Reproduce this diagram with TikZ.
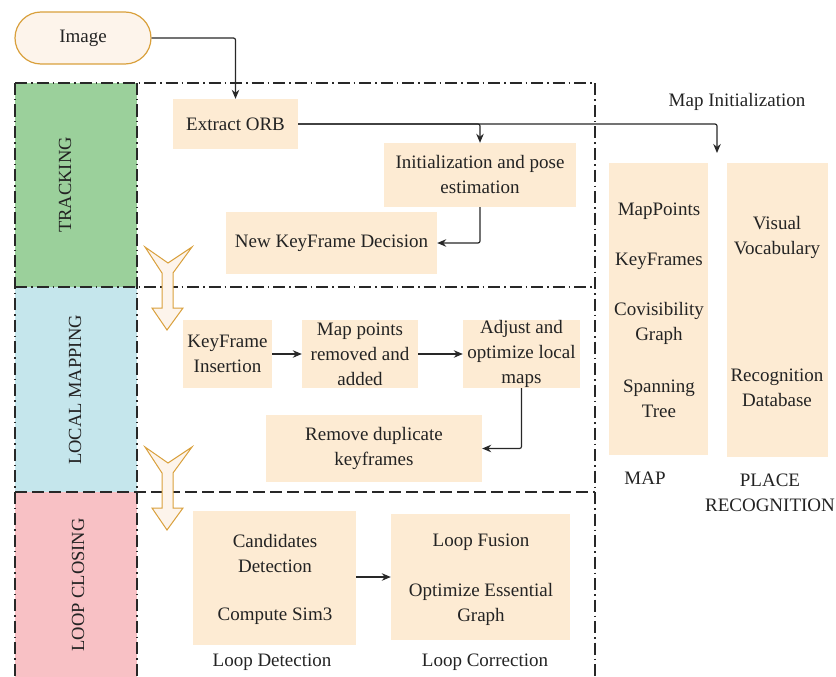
\documentclass[tikz,border=0pt]{standalone}
\usepackage{fontspec}
\setmainfont{Liberation Serif}
\usetikzlibrary{arrows.meta}
\definecolor{boxfill}{RGB}{253,235,211}
\definecolor{imgfill}{RGB}{253,244,235}
\definecolor{orangeb}{RGB}{217,160,60}
\definecolor{trackg}{RGB}{155,208,155}
\definecolor{localc}{RGB}{197,230,236}
\definecolor{loopp}{RGB}{248,193,197}
\definecolor{linec}{RGB}{40,40,40}
\definecolor{textc}{RGB}{35,35,35}
\begin{document}
\begin{tikzpicture}[x=1pt,y=-1pt,
  every node/.style={font=\fontsize{19}{25}\selectfont, text=textc},
  pbox/.style={fill=boxfill, draw=none, inner sep=0pt, align=center},
  plain/.style={inner sep=0pt, align=center, yshift=-1.5pt},
  side/.style={inner sep=0pt, rotate=90, font=\fontsize{18.5}{22}\selectfont},
  conn/.style={draw=linec, line width=1.2pt, rounded corners=2pt, -{Stealth[length=9pt,width=7.5pt]}},
  dashdot/.style={draw=linec, line width=1.1pt, dash pattern=on 12pt off 4pt on 1.5pt off 4pt},
  dashonly/.style={draw=linec, line width=1.1pt, dash pattern=on 12pt off 5pt},
  blockarrow/.style={fill=imgfill, draw=orangeb, line width=1pt, line join=miter}
]
\useasboundingbox (0,0) rectangle (836,677);
% side panels
\fill[trackg] (15,83) rectangle (137,287);
\fill[localc] (15,287) rectangle (137,492);
\fill[loopp] (15,492) rectangle (137,677);
\node[side] (ttrack) at (65,185) {TRACKING};
\node[side] (tlocal) at (75,390) {LOCAL MAPPING};
\node[side] (tloop) at (78,585) {LOOP CLOSING};
% frames
\draw[dashdot] (15,83) -- (595,83) -- (595,677);
\draw[dashdot] (15,287) -- (595,287);
\draw[dashonly] (15,492) -- (595,492);
\draw[dashdot] (15,83) -- (15,677);
\draw[dashdot] (137,83) -- (137,677);
% block arrows
\foreach \dy in {0,200}{
\draw[blockarrow] (145,247+\dy) -- (168,263+\dy) -- (192,247+\dy) -- (173,273+\dy) -- (173,308+\dy) -- (183,308+\dy) -- (167,330+\dy) -- (152,308+\dy) -- (162,308+\dy) -- (162,273+\dy) -- cycle;
}
% image
\node[fill=imgfill, draw=orangeb, line width=1.2pt, rounded corners=26pt, minimum width=136pt, minimum height=52pt, inner sep=0pt] (img) at (83,38) {\raisebox{-1.5pt}{Image}};
% tracking
\node[pbox, minimum width=125pt, minimum height=50pt] (orb) at (235.5,124) {Extract ORB};
\node[pbox, minimum width=192pt, minimum height=64pt] (init) at (480,175) {Initialization and pose\\estimation};
\node[pbox, minimum width=211pt, minimum height=62pt] (nkf) at (331.5,243) {New KeyFrame Decision};
% map columns
\node[pbox, minimum width=99pt, minimum height=292pt] (map) at (658.5,309) {};
\node[pbox, minimum width=101pt, minimum height=294pt] (place) at (777.5,310) {};
\node[plain] (mp) at (659,210) {MapPoints};
\node[plain] (kf) at (659,260) {KeyFrames};
\node[plain] (cg) at (659,322) {Covisibility\\Graph};
\node[plain] (st) at (659,397) {Spanning\\Tree};
\node[plain] (vv) at (777,236) {Visual\\Vocabulary};
\node[plain] (rd) at (777,386) {Recognition\\Database};
\node[plain] (lmap) at (645,477) {MAP};
\node[plain] (lplace) at (770,491) {PLACE\\RECOGNITION};
\node[plain] (lmi) at (737,100) {Map Initialization};
\coordinate (mi) at (717,153);
% local mapping
\node[pbox, minimum width=89pt, minimum height=68pt] (kfi) at (227.5,354) {KeyFrame\\Insertion};
\node[pbox, minimum width=116pt, minimum height=68pt] (mpr) at (360,354) {Map points\\removed and\\added};
\node[pbox, minimum width=117pt, minimum height=68pt] (adj) at (521.5,354) {Adjust and\\optimize local\\maps};
\node[pbox, minimum width=216pt, minimum height=67pt] (rdk) at (374,448.5) {Remove duplicate\\keyframes};
% loop closing
\node[pbox, minimum width=163pt, minimum height=134pt] (ld) at (274.5,578) {};
\node[pbox, minimum width=179pt, minimum height=126pt] (lc) at (480.5,577) {};
\node[plain] (cd) at (275,552) {Candidates\\Detection};
\node[plain] (cs) at (275,615) {Compute Sim3};
\node[plain] (lf) at (481,541) {Loop Fusion};
\node[plain] (oeg) at (481,603) {Optimize Essential\\Graph};
\node[plain] (lld) at (272,661) {Loop Detection};
\node[plain] (llc) at (485,661) {Loop Correction};
% connectors
\draw[conn] (img.east) -| (orb.north);
\draw[conn] (orb.east) -| (init.north);
\draw[conn] (orb.east) -| (mi);
\draw[conn] (init.south) |- (nkf.east);
\draw[conn] (kfi.east) -- (mpr.west);
\draw[conn] (mpr.east) -- (adj.west);
\draw[conn] (adj.south) |- (rdk.east);
\draw[conn] (ld.east |- lc.west) -- (lc.west);
\end{tikzpicture}
\end{document}
